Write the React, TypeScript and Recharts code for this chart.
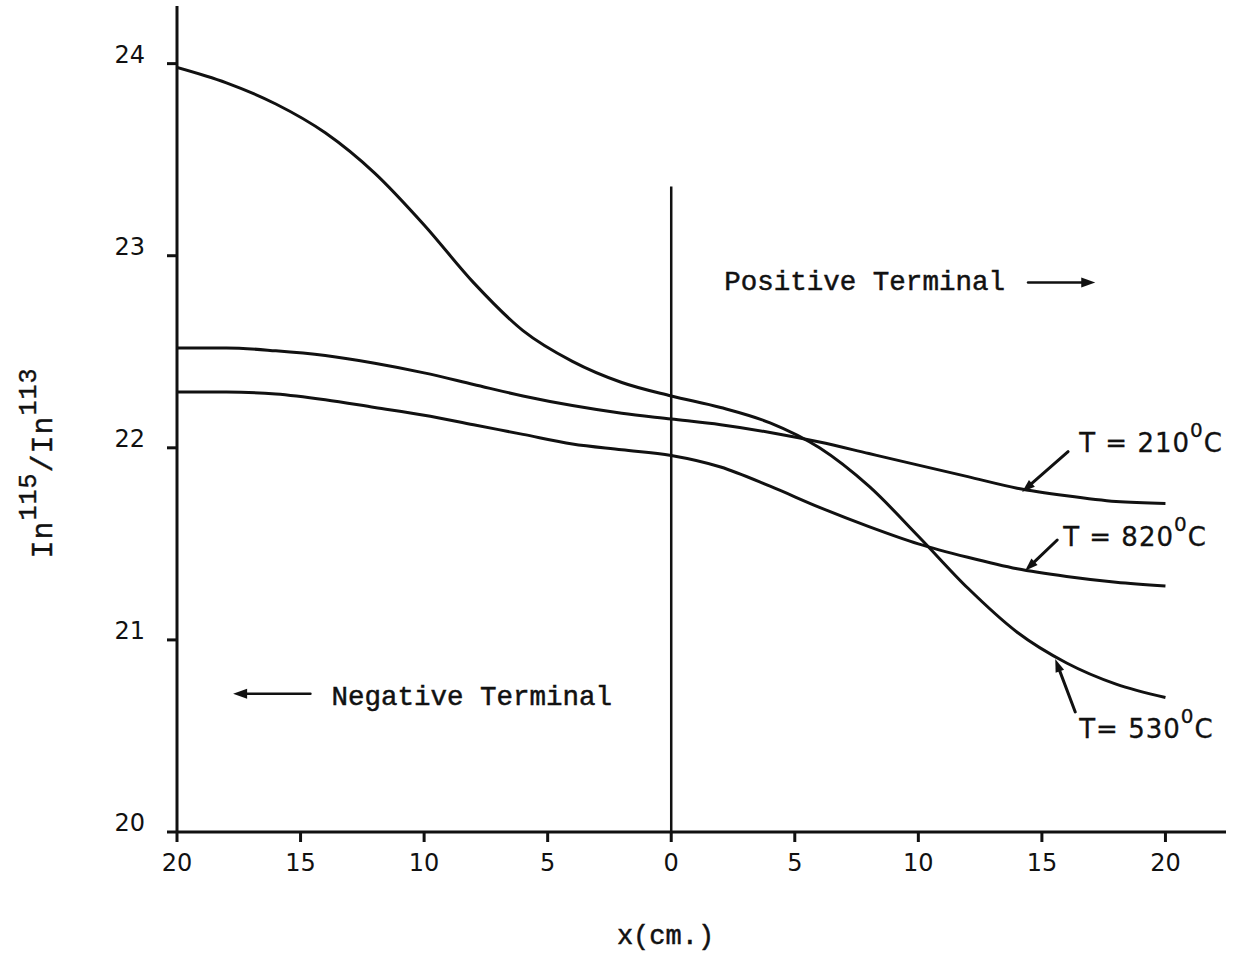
import React from "react";
import {
  LineChart,
  Line,
  XAxis,
  YAxis,
  ReferenceLine,
  ReferenceDot,
} from "recharts";

// ─── Data ────────────────────────────────────────────────────────────────────

const X_CM = [-20, -18, -16, -14, -12, -10, -8, -6, -4, -2, 0, 2, 4, 6, 8, 10, 12, 14, 16, 18, 20];
const T210 = [22.52, 22.52, 22.505, 22.48, 22.44, 22.39, 22.33, 22.27, 22.22, 22.18, 22.15, 22.12, 22.08, 22.03, 21.97, 21.91, 21.85, 21.79, 21.75, 21.72, 21.71];
const T530 = [23.98, 23.9, 23.79, 23.64, 23.43, 23.16, 22.86, 22.61, 22.45, 22.34, 22.27, 22.21, 22.13, 22.0, 21.8, 21.54, 21.27, 21.04, 20.88, 20.77, 20.7];
const T820 = [22.29, 22.29, 22.28, 22.25, 22.21, 22.17, 22.12, 22.07, 22.02, 21.99, 21.96, 21.9, 21.8, 21.69, 21.59, 21.5, 21.43, 21.37, 21.33, 21.3, 21.28];

const X_TICKS = [-20, -15, -10, -5, 0, 5, 10, 15, 20];
const Y_TICKS = [20, 21, 22, 23, 24];

const INK = "#111";
const MONO = "'Liberation Mono', 'DejaVu Sans Mono', monospace";
const HAND = "'DejaVu Sans', 'Liberation Sans', sans-serif";

// ─── Shapes ──────────────────────────────────────────────────────────────────

function arrowShape(len: number, half: number, width: number) {
  return (p: any) => {
    const { x1, y1, x2, y2 } = p;
    const a = Math.atan2(y2 - y1, x2 - x1);
    const c = Math.cos(a);
    const s = Math.sin(a);
    const bx = x2 - len * c;
    const by = y2 - len * s;
    const pts = `${x2},${y2} ${bx + half * s},${by - half * c} ${bx - half * s},${by + half * c}`;
    return (
      <g>
        <line x1={x1} y1={y1} x2={bx + 2 * c} y2={by + 2 * s} stroke={INK} strokeWidth={width} strokeLinecap="round" />
        <polygon points={pts} fill={INK} />
      </g>
    );
  };
}

function textShape(text: string, font: string, size: number) {
  return (p: any) => (
    <text
      x={p.cx}
      y={p.cy}
      fontFamily={font}
      fontSize={size}
      fill={INK}
      stroke={INK}
      strokeWidth={0.5}
    >
      {text}
    </text>
  );
}

function tempShape(prefix: string) {
  return (p: any) => (
    <text x={p.cx} y={p.cy} fontFamily={HAND} fontSize={26} fill={INK} stroke={INK} strokeWidth={0.3} letterSpacing={1}>
      <tspan>{prefix}</tspan>
      <tspan dy={-15} fontSize={20}>0</tspan>
      <tspan dy={15}>C</tspan>
    </text>
  );
}

function YTick({ x, y, payload }: any) {
  return (
    <text x={x} y={y - 9} textAnchor="end" dominantBaseline="central" fontFamily={HAND} fontSize={24} fill={INK}>
      {payload.value}
    </text>
  );
}

function XTick({ x, y, payload }: any) {
  return (
    <text x={x} y={y + 25} textAnchor="middle" fontFamily={HAND} fontSize={24} fill={INK}>
      {Math.abs(payload.value)}
    </text>
  );
}

function YLabel({ viewBox }: any) {
  const cx = 52;
  const cy = viewBox.y + 457;
  return (
    <text
      x={cx}
      y={cy}
      transform={`rotate(-90 ${cx} ${cy})`}
      textAnchor="middle"
      fontFamily={MONO}
      fontSize={30}
      fill={INK}
      stroke={INK}
      strokeWidth={0.4}
      letterSpacing={1}
    >
      <tspan>In</tspan>
      <tspan dy={-16} fontSize={25}>115</tspan>
      <tspan dy={16}>/In</tspan>
      <tspan dy={-16} fontSize={25}>113</tspan>
    </text>
  );
}

function XLabel({ viewBox }: any) {
  return (
    <text
      x={viewBox.x + viewBox.width / 2 - 36}
      y={viewBox.y + 112}
      textAnchor="middle"
      fontFamily={MONO}
      fontSize={27}
      fill={INK}
      stroke={INK}
      strokeWidth={0.5}
    >
      x(cm.)
    </text>
  );
}

// ─── Chart ───────────────────────────────────────────────────────────────────

export default function App() {
  const chartData = X_CM.map((x, i) => ({
    x,
    t210: T210[i],
    t530: T530[i],
    t820: T820[i],
  }));

  const bigArrow = arrowShape(14, 5, 2.5);
  const smallArrow = arrowShape(13, 4.5, 3);

  return (
    <div style={{ position: "absolute", left: 0, top: 0, width: 1236, height: 953, background: "#fff" }}>
      <LineChart width={1236} height={953} data={chartData} margin={{ top: 6, right: 10, left: 0, bottom: 0 }}>
        <XAxis
          dataKey="x"
          type="number"
          domain={[-20, 22.45]}
          ticks={X_TICKS}
          allowDataOverflow
          height={121}
          axisLine={{ stroke: INK, strokeWidth: 3 }}
          tickLine={{ stroke: INK, strokeWidth: 3 }}
          tickSize={10}
          tickMargin={4}
          tick={<XTick />}
          label={<XLabel />}
        />
        <YAxis
          type="number"
          domain={[20, 24.3]}
          ticks={Y_TICKS}
          allowDataOverflow
          width={177}
          axisLine={{ stroke: INK, strokeWidth: 3 }}
          tickLine={{ stroke: INK, strokeWidth: 3 }}
          tickSize={10}
          tickMargin={22}
          tick={<YTick />}
          label={<YLabel />}
        />

        <ReferenceLine segment={[{ x: 0, y: 20 }, { x: 0, y: 23.36 }]} stroke={INK} strokeWidth={2.5} ifOverflow="visible" />

        <Line type="monotone" dataKey="t210" stroke={INK} strokeWidth={3} dot={false} isAnimationActive={false} />
        <Line type="monotone" dataKey="t820" stroke={INK} strokeWidth={3} dot={false} isAnimationActive={false} />
        <Line type="monotone" dataKey="t530" stroke={INK} strokeWidth={3} dot={false} isAnimationActive={false} />

        {/* terminal annotations */}
        <ReferenceDot x={2.15} y={22.82} r={0} ifOverflow="visible" shape={textShape("Positive Terminal", MONO, 27.5)} />
        <ReferenceLine segment={[{ x: 14.44, y: 22.86 }, { x: 17.16, y: 22.86 }]} ifOverflow="visible" shape={bigArrow} />
        <ReferenceDot x={-13.75} y={20.66} r={0} ifOverflow="visible" shape={textShape("Negative Terminal", MONO, 27.5)} />
        <ReferenceLine segment={[{ x: -14.6, y: 20.72 }, { x: -17.73, y: 20.72 }]} ifOverflow="visible" shape={bigArrow} />

        {/* curve labels */}
        <ReferenceDot x={16.51} y={21.98} r={0} ifOverflow="visible" shape={tempShape("T = 210")} />
        <ReferenceLine segment={[{ x: 16.06, y: 21.98 }, { x: 14.2, y: 21.77 }]} ifOverflow="visible" shape={smallArrow} />
        <ReferenceDot x={15.86} y={21.49} r={0} ifOverflow="visible" shape={tempShape("T = 820")} />
        <ReferenceLine segment={[{ x: 15.62, y: 21.52 }, { x: 14.32, y: 21.36 }]} ifOverflow="visible" shape={smallArrow} />
        <ReferenceDot x={16.51} y={20.49} r={0} ifOverflow="visible" shape={tempShape("T= 530")} />
        <ReferenceLine segment={[{ x: 16.35, y: 20.625 }, { x: 15.54, y: 20.9 }]} ifOverflow="visible" shape={smallArrow} />
      </LineChart>
    </div>
  );
}
